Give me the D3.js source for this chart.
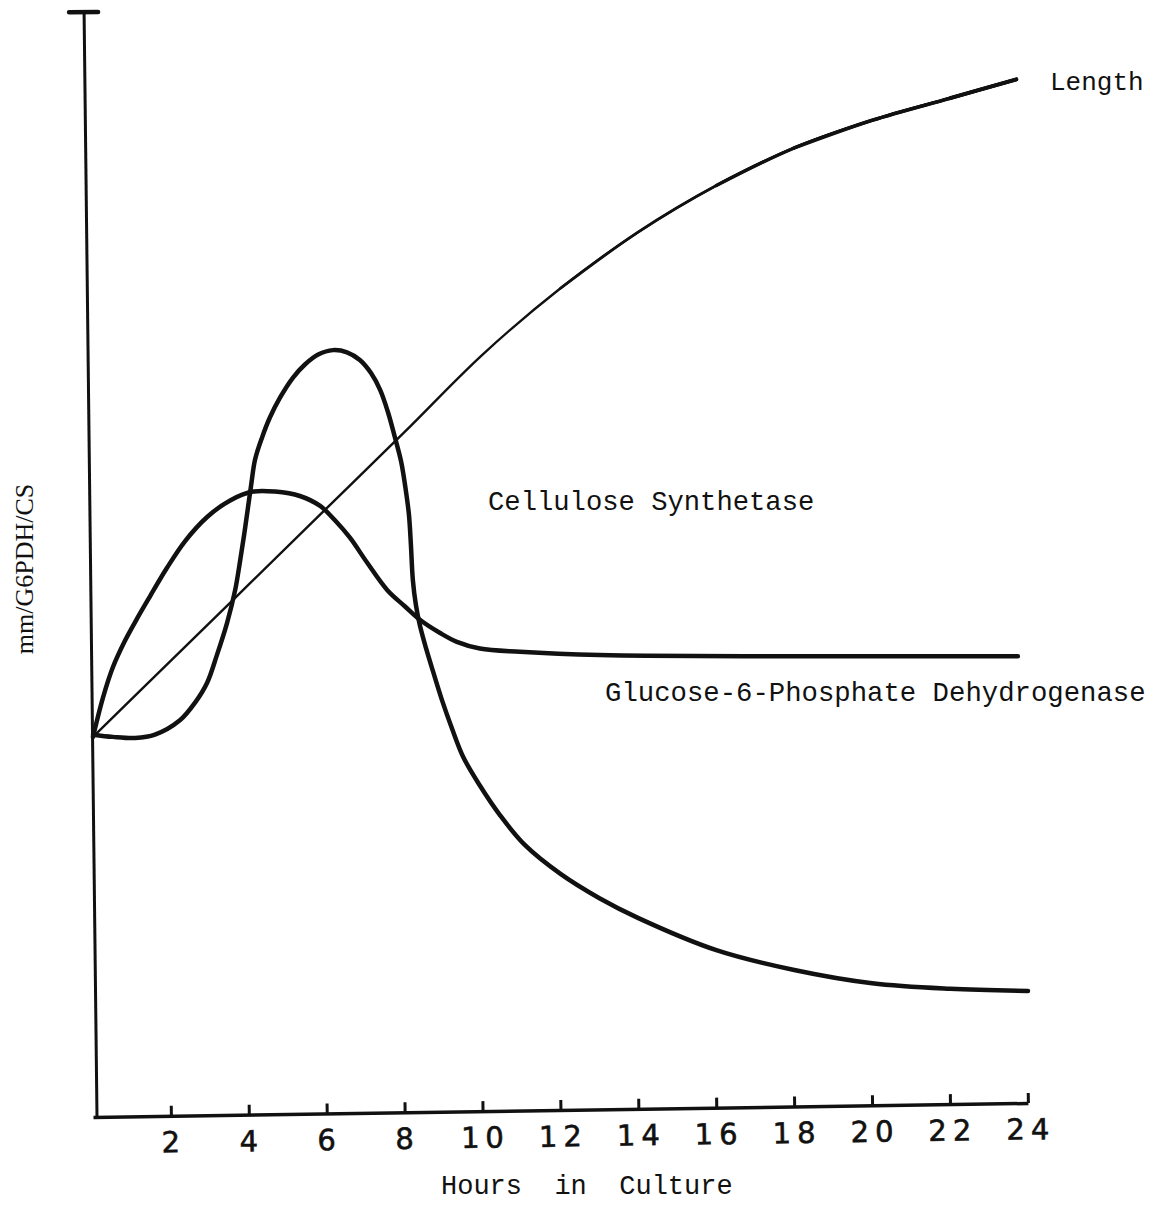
<!DOCTYPE html>
<html>
<head>
<meta charset="utf-8">
<script src="https://cdn.jsdelivr.net/npm/d3@7"></script>
<style>
  html, body { margin: 0; padding: 0; background: #fff; }
  svg { display: block; }
  .typed { font-family: "Liberation Mono", "DejaVu Sans Mono", monospace; fill: #111; white-space: pre; }
  .serif { font-family: "Liberation Serif", "DejaVu Serif", serif; fill: #111; }
</style>
</head>
<body>
<script>
// Hours in culture (x) and relative level (y) for each curve
const lengthHours = [0, 2, 4, 6, 8, 10, 12, 14, 16, 18, 20, 22, 23.7];
const lengthValues = [34.4, 41.3, 48.2, 55.1, 62.0, 69.0, 75.0, 80.1, 84.3, 87.7, 90.2, 92.2, 93.9];

const g6pdhHours = [0, 0.26, 0.51, 0.82, 1.13, 1.46, 1.90, 2.36, 2.93, 3.52, 4.11, 4.67, 5.31, 5.83, 6.21, 6.60, 7.03, 7.55, 8.01, 8.39, 8.91, 9.34, 9.93, 10.96, 13.0, 18.0, 23.74];
const g6pdhValues = [34.4, 38.0, 40.7, 43.1, 45.1, 47.1, 49.7, 52.1, 54.3, 55.8, 56.6, 56.6, 56.2, 55.3, 54.0, 52.4, 50.2, 47.7, 46.2, 45.0, 43.8, 43.0, 42.4, 42.1, 41.8, 41.7, 41.7];

const csHours = [0, 0.51, 1.08, 1.59, 2.23, 2.62, 2.93, 3.18, 3.44, 3.65, 3.77, 3.88, 3.98, 4.06, 4.16, 4.34, 4.54, 4.80, 5.13, 5.44, 5.78, 6.16, 6.52, 6.85, 7.14, 7.37, 7.57, 7.75, 7.91, 8.03, 8.11, 8.16, 8.21, 8.29, 8.39, 8.55, 8.73, 8.96, 9.21, 9.50, 9.93, 10.45, 11.09, 12.0, 13.0, 14.0, 16.0, 18.0, 20.0, 22.0, 24.0];
const csValues = [34.6, 34.4, 34.3, 34.6, 35.9, 37.5, 39.3, 41.8, 44.7, 47.7, 50.2, 52.7, 55.2, 57.2, 59.5, 61.5, 63.3, 65.1, 66.9, 68.1, 69.0, 69.4, 69.2, 68.5, 67.3, 65.8, 63.8, 61.5, 59.3, 56.7, 54.5, 51.8, 48.6, 46.3, 44.5, 42.4, 40.3, 37.7, 35.2, 32.6, 30.0, 27.3, 24.6, 22.0, 19.8, 18.0, 15.1, 13.3, 12.1, 11.6, 11.4];

const xTicks = [2, 4, 6, 8, 10, 12, 14, 16, 18, 20, 22, 24];

const W = 1164, H = 1223;
const svg = d3.select("body").append("svg").attr("width", W).attr("height", H);

const x = d3.scaleLinear().domain([0, 24]).range([93, 1028]);
const y = d3.scaleLinear().domain([0, 100]).range([1117, 12]);

const ink = "#111";

// X axis: hand-ruled, rising slightly to the right, ticks pointing up
const xAxisG = svg.append("g")
  .attr("transform", `translate(0,${y(0)}) rotate(-0.86, ${x(0)}, 0)`)
  .call(d3.axisBottom(x).tickValues(xTicks).tickSizeInner(-10).tickSizeOuter(0).tickPadding(16));
xAxisG.select(".domain").attr("stroke", ink).attr("stroke-width", 3.5);
xAxisG.selectAll(".tick line").attr("stroke", ink).attr("stroke-width", 3);
xAxisG.selectAll(".tick text")
  .attr("fill", ink)
  .attr("stroke", ink)
  .attr("stroke-width", 0.6)
  .attr("dx", "2px")
  .style("font-family", "'DejaVu Sans', sans-serif")
  .style("font-size", "29px")
  .style("letter-spacing", "6px");

// Y axis: a plain line with a cap at the top, leaning slightly
const yAxisG = svg.append("g").attr("transform", `rotate(-0.67, 97, ${y(0)})`);
yAxisG.append("line")
  .attr("x1", 97).attr("x2", 97).attr("y1", y(0)).attr("y2", y(100) - 1)
  .attr("stroke", ink).attr("stroke-width", 3);
yAxisG.append("line")
  .attr("x1", 82).attr("x2", 111).attr("y1", y(100)).attr("y2", y(100))
  .attr("stroke", ink).attr("stroke-width", 4.5).attr("stroke-linecap", "round");

const line = d3.line()
  .x(d => x(d[0]))
  .y(d => y(d[1]))
  .curve(d3.curveCatmullRom.alpha(0.5));

const lengthPts = d3.zip(lengthHours, lengthValues);
const g6pdhPts = d3.zip(g6pdhHours, g6pdhValues);
const csPts = d3.zip(csHours, csValues);

// Length: thin pen stroke that gets heavier toward the end
const lengthWeights = [[0, 2.4], [12, 2.8], [16, 3.2], [18, 3.6], [22, 4.0]];
lengthWeights.forEach(([from, w]) => {
  svg.append("path").attr("d", line(lengthPts.filter(d => d[0] >= from)))
    .attr("fill", "none").attr("stroke", ink).attr("stroke-width", w).attr("stroke-linecap", "round");
});

// Glucose-6-phosphate dehydrogenase
svg.append("path").attr("d", line(g6pdhPts))
  .attr("fill", "none").attr("stroke", ink).attr("stroke-width", 4.5)
  .attr("stroke-linecap", "round").attr("stroke-linejoin", "round");

// Cellulose synthetase
svg.append("path").attr("d", line(csPts))
  .attr("fill", "none").attr("stroke", ink).attr("stroke-width", 4.5)
  .attr("stroke-linecap", "round").attr("stroke-linejoin", "round");

// Curve labels
svg.append("text").attr("class", "typed").attr("x", 1050).attr("y", 90)
  .style("font-size", "26px").text("Length");
svg.append("text").attr("class", "typed").attr("x", 488).attr("y", 510)
  .style("font-size", "27.2px").text("Cellulose Synthetase");
svg.append("text").attr("class", "typed").attr("x", 605).attr("y", 701)
  .style("font-size", "27.3px").text("Glucose-6-Phosphate Dehydrogenase");

// Axis titles
svg.append("text").attr("class", "typed").attr("x", 441).attr("y", 1194)
  .style("font-size", "27px").text("Hours  in  Culture");
svg.append("text").attr("class", "serif")
  .attr("transform", "translate(33,569) rotate(-90)")
  .attr("text-anchor", "middle")
  .style("font-size", "26px").text("mm/G6PDH/CS");
</script>
</body>
</html>
